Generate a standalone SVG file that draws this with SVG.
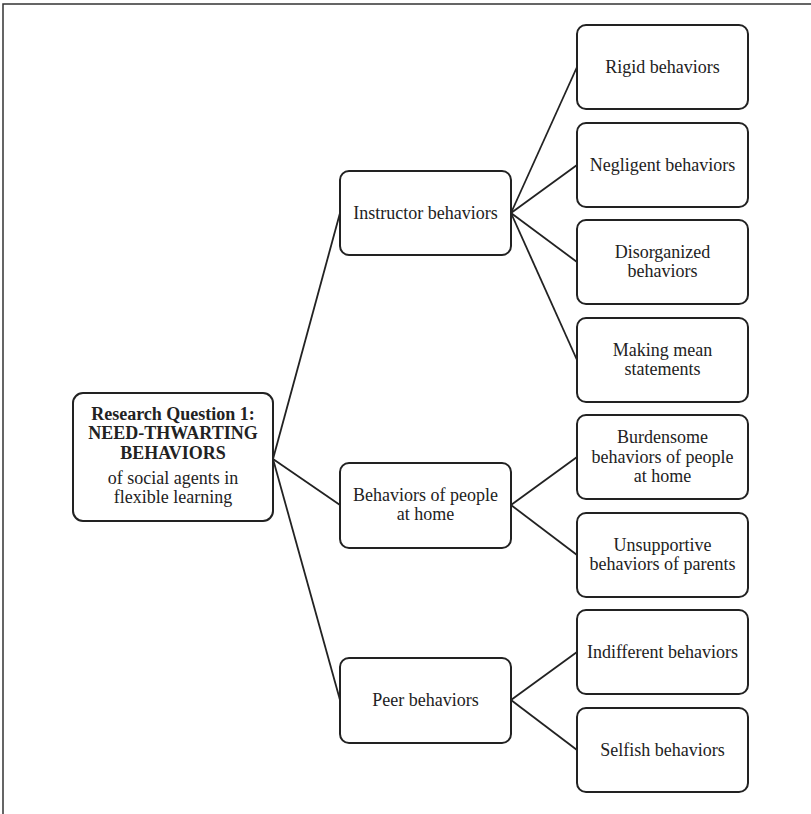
<svg xmlns="http://www.w3.org/2000/svg" width="811" height="814" viewBox="0 0 811 814">
<style>
.box{fill:#fff;stroke:#222;stroke-width:2}
.t{font-family:"Liberation Serif","Times New Roman",serif;font-size:18px;fill:#222;text-anchor:middle}
.b{font-weight:bold}
.c{stroke:#222;stroke-width:1.8;fill:none}
</style>
<rect width="811" height="814" fill="#fff"/>
<path d="M3,814 V4 H811" fill="none" stroke="#333" stroke-width="1.5"/>
<g id="connectors">
<line class="c" x1="273" y1="459" x2="340" y2="213"/>
<line class="c" x1="273" y1="459" x2="340" y2="505"/>
<line class="c" x1="273" y1="459" x2="340" y2="700"/>
<line class="c" x1="511" y1="213" x2="577" y2="67"/>
<line class="c" x1="511" y1="213" x2="577" y2="165"/>
<line class="c" x1="511" y1="213" x2="577" y2="262"/>
<line class="c" x1="511" y1="213" x2="577" y2="360"/>
<line class="c" x1="511" y1="505" x2="577" y2="457"/>
<line class="c" x1="511" y1="505" x2="577" y2="555"/>
<line class="c" x1="511" y1="700" x2="577" y2="652"/>
<line class="c" x1="511" y1="700" x2="577" y2="750"/>
</g>
<g id="root">
<rect class="box" x="73" y="393" width="200" height="128" rx="10"/>
<text class="t b" x="173" y="420">Research Question 1:</text>
<text class="t b" x="173" y="439">NEED-THWARTING</text>
<text class="t b" x="173" y="459">BEHAVIORS</text>
<text class="t" x="173" y="484">of social agents in</text>
<text class="t" x="173" y="503">flexible learning</text>
</g>
<g id="instructor">
<rect class="box" x="340" y="171" width="171" height="84" rx="9"/>
<text class="t" x="425.5" y="219">Instructor behaviors</text>
</g>
<g id="home">
<rect class="box" x="340" y="463" width="171" height="85" rx="9"/>
<text class="t" x="425.5" y="501">Behaviors of people</text>
<text class="t" x="425.5" y="520">at home</text>
</g>
<g id="peer">
<rect class="box" x="340" y="658" width="171" height="85" rx="9"/>
<text class="t" x="425.5" y="706">Peer behaviors</text>
</g>
<g id="rigid">
<rect class="box" x="577" y="25" width="171" height="84" rx="9"/>
<text class="t" x="662.5" y="73">Rigid behaviors</text>
</g>
<g id="negligent">
<rect class="box" x="577" y="123" width="171" height="84" rx="9"/>
<text class="t" x="662.5" y="171">Negligent behaviors</text>
</g>
<g id="disorganized">
<rect class="box" x="577" y="220" width="171" height="84" rx="9"/>
<text class="t" x="662.5" y="258">Disorganized</text>
<text class="t" x="662.5" y="277">behaviors</text>
</g>
<g id="mean">
<rect class="box" x="577" y="318" width="171" height="84" rx="9"/>
<text class="t" x="662.5" y="356">Making mean</text>
<text class="t" x="662.5" y="375">statements</text>
</g>
<g id="burdensome">
<rect class="box" x="577" y="415" width="171" height="84" rx="9"/>
<text class="t" x="662.5" y="443">Burdensome</text>
<text class="t" x="662.5" y="463">behaviors of people</text>
<text class="t" x="662.5" y="482">at home</text>
</g>
<g id="unsupportive">
<rect class="box" x="577" y="513" width="171" height="84" rx="9"/>
<text class="t" x="662.5" y="551">Unsupportive</text>
<text class="t" x="662.5" y="570">behaviors of parents</text>
</g>
<g id="indifferent">
<rect class="box" x="577" y="610" width="171" height="84" rx="9"/>
<text class="t" x="662.5" y="658">Indifferent behaviors</text>
</g>
<g id="selfish">
<rect class="box" x="577" y="708" width="171" height="84" rx="9"/>
<text class="t" x="662.5" y="756">Selfish behaviors</text>
</g>
</svg>
